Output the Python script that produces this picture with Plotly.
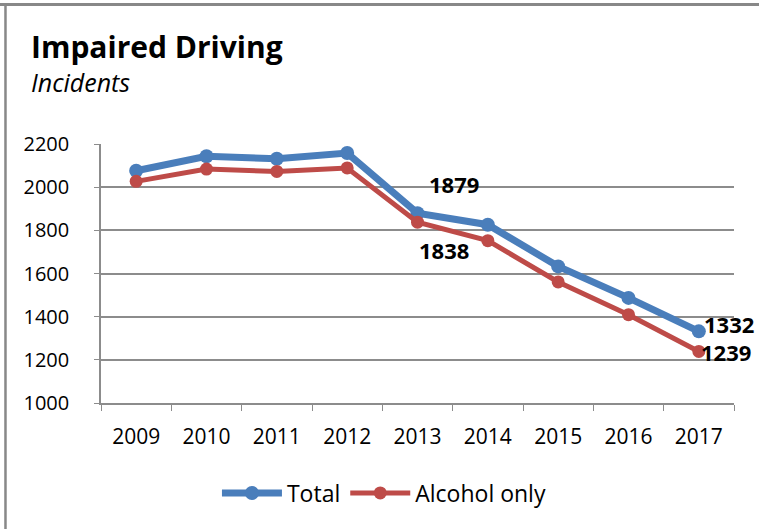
import plotly.graph_objects as go

years = ["2009", "2010", "2011", "2012", "2013", "2014", "2015", "2016", "2017"]
total = [2076, 2143, 2132, 2158, 1879, 1826, 1633, 1487, 1332]
alcohol = [2027, 2084, 2073, 2089, 1838, 1752, 1561, 1409, 1239]
y_ticks = [1000, 1200, 1400, 1600, 1800, 2000, 2200]

BLUE = "#4A7EBB"
RED = "#BE4B48"
GRID = "#8C8C8C"
FONT = "Open Sans, Lato, sans-serif"

fig = go.Figure()
fig.add_trace(go.Scatter(
    x=years, y=total, name="Total", mode="lines+markers",
    line=dict(color=BLUE, width=7), marker=dict(color=BLUE, size=14),
))
fig.add_trace(go.Scatter(
    x=years, y=alcohol, name="Alcohol only", mode="lines+markers",
    line=dict(color=RED, width=5), marker=dict(color=RED, size=13),
))

labels = [
    (4, total[4], 36, 29),
    (4, alcohol[4], 26, -28),
    (8, total[8], 30, 7),
    (8, alcohol[8], 27, -1),
]
for xi, y, xs, ys in labels:
    fig.add_annotation(x=xi, y=y, text=f"<b>{y}</b>", showarrow=False,
                       xshift=xs, yshift=ys, font=dict(size=22, color="black", family=FONT))

fig.add_annotation(xref="paper", yref="paper", x=-0.1145, y=1.378, xanchor="left", yanchor="middle",
                   text="<b>Impaired Driving</b>", showarrow=False,
                   font=dict(size=30, color="black", family=FONT))
fig.add_annotation(xref="paper", yref="paper", x=-0.1145, y=1.2405, xanchor="left", yanchor="middle",
                   text="<i>Incidents</i>", showarrow=False,
                   font=dict(size=25, color="black", family=FONT))

# outer frame lines (top and left)
fig.add_shape(type="line", xref="paper", yref="paper", x0=-0.16, x1=1.05, y0=1.5386, y1=1.5386,
              line=dict(color="#888888", width=3))
fig.add_shape(type="line", xref="paper", yref="paper", x0=-0.1509, x1=-0.1509, y0=-0.5, y1=1.5386,
              line=dict(color="#888888", width=2.5))

fig.update_layout(
    width=759, height=529,
    margin=dict(l=101, r=25, t=144, b=126),
    paper_bgcolor="white", plot_bgcolor="white",
    font=dict(family=FONT, size=20, color="black"),
    showlegend=True,
    legend=dict(orientation="h", x=0.447, y=-0.3475, xanchor="center", yanchor="middle",
                font=dict(size=23), itemwidth=60),
    xaxis=dict(type="category", showgrid=False, showline=True, linecolor=GRID, linewidth=1.5,
               ticks="outside", tickson="boundaries", ticklen=6, tickcolor=GRID,
               ticklabelstandoff=14, range=[-0.5, 8.5], tickfont=dict(size=21)),
    yaxis=dict(range=[1000, 2200], tickvals=y_ticks, showgrid=True, gridcolor=GRID, gridwidth=1.5,
               showline=True, linecolor=GRID, linewidth=1.5, ticks="outside", ticklen=5,
               tickcolor=GRID, zeroline=False, ticklabelstandoff=21, tickfont=dict(size=20)),
)

fig.write_html("out.html", config={"displayModeBar": False},
               post_script="document.body.style.margin='0';")
